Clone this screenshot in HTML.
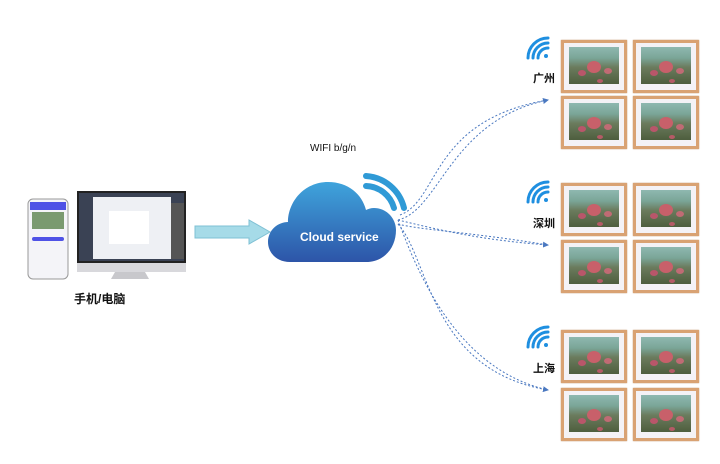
<!DOCTYPE html>
<html><head><meta charset="utf-8"><style>
body{margin:0;width:720px;height:464px;background:#fff;position:relative;overflow:hidden;font-family:"Liberation Sans","Noto Sans CJK SC",sans-serif}
.f{position:absolute;width:66px;height:53px;box-sizing:border-box;border:3px solid #d9a273;background:#f4f2f6;box-shadow:0 0 1px #b07a4a}
.f i{position:absolute;left:5px;top:4px;right:5px;bottom:6px;background:linear-gradient(180deg,#8fb8b0 0%,#7aa597 30%,#6b7b5d 55%,#4e5e3e 100%)}
.f i:after{content:"";position:absolute;left:18px;top:14px;width:14px;height:12px;border-radius:50%;background:#c8606a;box-shadow:-12px 6px 0 -3px #b9566a,14px 4px 0 -3px #c06b74,6px 14px 0 -4px #b55a66}
.t{position:absolute;font-size:11px;font-weight:bold;color:#111}
</style></head><body>
<svg width="720" height="464" style="position:absolute;left:0;top:0">
<defs><linearGradient id="cg" x1="0" y1="0" x2="0" y2="1"><stop offset="0" stop-color="#3fa4dc"/><stop offset="1" stop-color="#2d55a8"/></linearGradient>
<marker id="ah" markerWidth="6" markerHeight="6" refX="5" refY="3" orient="auto"><path d="M0,0L6,3L0,6z" fill="#4a78c0"/></marker></defs>
<rect x="28" y="199" width="40" height="80" rx="5" fill="#f4f4f8" stroke="#999"/>
<rect x="30" y="202" width="36" height="8" fill="#4f52e6"/>
<rect x="32" y="212" width="32" height="17" fill="#7a9a70"/>
<rect x="32" y="237" width="32" height="4" rx="2" fill="#4f52e6"/>
<rect x="77" y="191" width="109" height="72" fill="#222"/>
<rect x="79" y="193" width="105" height="68" fill="#3a4254"/>
<rect x="93" y="197" width="78" height="62" fill="#eef0f4"/>
<rect x="109" y="211" width="40" height="33" fill="#fff"/>
<rect x="171" y="203" width="13" height="56" fill="#555"/>
<rect x="77" y="263" width="109" height="9" fill="#d8d8dc"/>
<path d="M115 272h30l4 7h-38z" fill="#c8c8cc"/>
<path d="M195 226h54v-6l21 12l-21 12v-6h-54z" fill="#a6dbe8" stroke="#7fc0d4"/>
<path d="M290 262c-14 0-22-10-22-20c0-12 10-20 20-20c0-20 16-40 40-40c20 0 34 12 38 28c2-1 5-2 8-2c12 0 22 10 22 22c0 18-12 32-30 32z" fill="url(#cg)"/>
<path d="M366 186a30 30 0 0 1 28 22" stroke="#2f9ad6" stroke-width="6" fill="none" stroke-linecap="round"/>
<path d="M366 176a42 42 0 0 1 38 32" stroke="#2f9ad6" stroke-width="6" fill="none" stroke-linecap="round"/>
<g stroke="#4a78c0" stroke-width="1" fill="none" stroke-dasharray="2,2" marker-end="url(#ah)">
<path d="M400 215C440 200 430 120 548 100" marker-end="none"/>
<path d="M398 220C440 210 450 120 548 100"/>
<path d="M398 220C440 230 480 240 548 245"/>
<path d="M398 224C420 230 470 232 548 245" marker-end="none"/>
<path d="M398 224C430 260 430 370 548 390"/>
<path d="M398 220C420 280 460 370 548 390" marker-end="none"/>
</g>
<g fill="none" stroke="#1f8fe0" stroke-width="3" stroke-linecap="round">
<g transform="translate(548,58)"><path d="M-10 0a10 10 0 0 1 10-10M-15 0a15 15 0 0 1 15-15M-20 0a20 20 0 0 1 20-20"/><circle cx="-2" cy="-2" r="2" fill="#1f8fe0" stroke="none"/></g>
<g transform="translate(548,202)"><path d="M-10 0a10 10 0 0 1 10-10M-15 0a15 15 0 0 1 15-15M-20 0a20 20 0 0 1 20-20"/><circle cx="-2" cy="-2" r="2" fill="#1f8fe0" stroke="none"/></g>
<g transform="translate(548,347)"><path d="M-10 0a10 10 0 0 1 10-10M-15 0a15 15 0 0 1 15-15M-20 0a20 20 0 0 1 20-20"/><circle cx="-2" cy="-2" r="2" fill="#1f8fe0" stroke="none"/></g>
</g>
<text x="300" y="241" font-size="12" font-weight="bold" fill="#fff" font-family="Liberation Sans">Cloud service</text>
</svg>
<div class="t" style="left:310px;top:143px;font-weight:normal;font-size:10px">WIFI b/g/n</div>
<div class="t" style="left:74px;top:290px;font-size:12px">手机/电脑</div>
<div class="t" style="left:533px;top:70px">广州</div>
<div class="t" style="left:533px;top:215px">深圳</div>
<div class="t" style="left:533px;top:360px">上海</div>
<div class="f" style="left:561px;top:40px"><i></i></div><div class="f" style="left:633px;top:40px"><i></i></div>
<div class="f" style="left:561px;top:96px"><i></i></div><div class="f" style="left:633px;top:96px"><i></i></div>
<div class="f" style="left:561px;top:183px"><i></i></div><div class="f" style="left:633px;top:183px"><i></i></div>
<div class="f" style="left:561px;top:240px"><i></i></div><div class="f" style="left:633px;top:240px"><i></i></div>
<div class="f" style="left:561px;top:330px"><i></i></div><div class="f" style="left:633px;top:330px"><i></i></div>
<div class="f" style="left:561px;top:388px"><i></i></div><div class="f" style="left:633px;top:388px"><i></i></div>
</body></html>
